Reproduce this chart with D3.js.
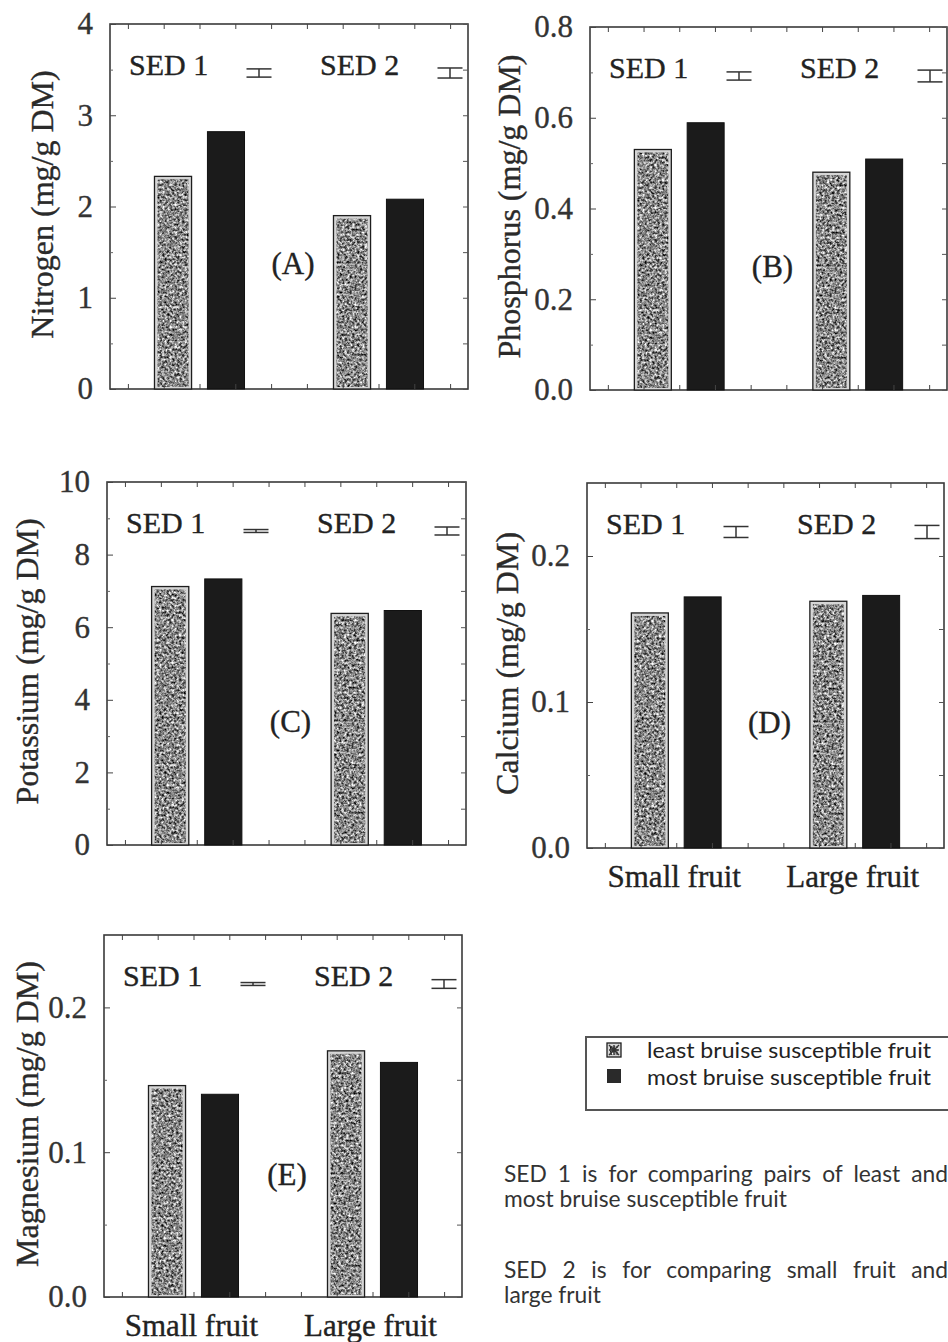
<!DOCTYPE html>
<html>
<head>
<meta charset="utf-8">
<script src="https://cdn.jsdelivr.net/npm/d3@7"></script>
<style>
  html, body { margin: 0; padding: 0; background: #ffffff; }
  svg { display: block; }
</style>
</head>
<body>
<svg id="chart" width="948" height="1342"></svg>
<script>
// ---- data ----
const categories = ["Small fruit", "Large fruit"];
const seriesNames = ["least bruise susceptible fruit", "most bruise susceptible fruit"];
const panelLetters = ["(A)", "(B)", "(C)", "(D)", "(E)"];
const nutrientTitles = ["Nitrogen (mg/g DM)", "Phosphorus (mg/g DM)", "Potassium (mg/g DM)", "Calcium (mg/g DM)", "Magnesium (mg/g DM)"];

const nitrogenLeast = [2.33, 1.90];
const nitrogenMost = [2.82, 2.08];
const phosphorusLeast = [0.530, 0.480];
const phosphorusMost = [0.589, 0.509];
const potassiumLeast = [7.12, 6.38];
const potassiumMost = [7.33, 6.46];
const calciumLeast = [0.161, 0.169];
const calciumMost = [0.172, 0.173];
const magnesiumLeast = [0.146, 0.170];
const magnesiumMost = [0.140, 0.162];

const yMaxValues = [4, 0.8, 10, 0.25, 0.25];
const nitrogenTicks = [0, 1, 2, 3, 4];
const phosphorusTicks = [0, 0.2, 0.4, 0.6, 0.8];
const potassiumTicks = [0, 2, 4, 6, 8, 10];
const calciumTicks = [0, 0.1, 0.2];
const magnesiumTicks = [0, 0.1, 0.2];
const tickFormats = ["d", ".1f", "d", ".1f", ".1f"];

const sed1Values = [0.09, 0.018, 0.08, 0.0075, 0.002];
const sed2Values = [0.11, 0.026, 0.22, 0.009, 0.006];

const noteLines = [
  "SED 1 is for comparing pairs of least and",
  "most bruise susceptible fruit",
  "SED 2 is for comparing small fruit and",
  "large fruit"
];

// ---- layout ----
const frames = [
  { x: 110, y: 24,  w: 358, h: 365, titleX: 53 },
  { x: 590, y: 27,  w: 357, h: 363, titleX: 520 },
  { x: 107, y: 482, w: 359, h: 363, titleX: 38 },
  { x: 587, y: 483, w: 357, h: 365, titleX: 518 },
  { x: 104, y: 935, w: 358, h: 362, titleX: 38 }
];
const showCategoryLabels = [false, false, false, true, true];

const panels = [
  { least: nitrogenLeast, most: nitrogenMost, ticks: nitrogenTicks },
  { least: phosphorusLeast, most: phosphorusMost, ticks: phosphorusTicks },
  { least: potassiumLeast, most: potassiumMost, ticks: potassiumTicks },
  { least: calciumLeast, most: calciumMost, ticks: calciumTicks },
  { least: magnesiumLeast, most: magnesiumMost, ticks: magnesiumTicks }
];

const serif = "'Liberation Serif', 'Times New Roman', serif";
const sans = "Lato, 'Open Sans', 'DejaVu Sans', sans-serif";

const svg = d3.select("#chart");

// serif text with a slightly heavier stroke
function serifText(sel, size, color) {
  return sel.attr("font-family", serif).attr("font-size", size)
    .attr("fill", color).attr("stroke", color).attr("stroke-width", 0.35);
}

// mottled grey texture for the "least" bars
const defs = svg.append("defs");
const stipple = defs.append("filter").attr("id", "stipple")
  .attr("x", 0).attr("y", 0).attr("width", 1).attr("height", 1)
  .attr("color-interpolation-filters", "sRGB");
stipple.append("feTurbulence").attr("type", "fractalNoise")
  .attr("baseFrequency", 0.4).attr("numOctaves", 3).attr("seed", 7).attr("result", "noise");
stipple.append("feColorMatrix").attr("in", "noise").attr("type", "matrix")
  .attr("values", "1.6 0 0 0 -0.27  1.6 0 0 0 -0.27  1.6 0 0 0 -0.27  0 0 0 0 1")
  .attr("result", "grey");
stipple.append("feComposite").attr("in", "grey").attr("in2", "SourceGraphic").attr("operator", "in");

function stippledRect(g, x, y, w, h) {
  g.append("rect").attr("x", x).attr("y", y).attr("width", w).attr("height", h)
    .attr("fill", "#d6d6d6").attr("stroke", "#1e1e1e").attr("stroke-width", 1.3);
  if (w > 6 && h > 6) {
    g.append("rect").attr("x", x + 3).attr("y", y + 3).attr("width", w - 6).attr("height", h - 5)
      .attr("fill", "#888").attr("filter", "url(#stipple)");
  }
}

panels.forEach((p, i) => {
  const f = frames[i];
  const g = svg.append("g").attr("transform", `translate(${f.x},${f.y})`);

  const y = d3.scaleLinear().domain([0, yMaxValues[i]]).range([f.h, 0]);
  const x0 = d3.scaleBand().domain(categories).range([0, f.w]).paddingInner(0).paddingOuter(0);
  const x1 = d3.scaleBand().domain(seriesNames).range([0, x0.bandwidth()])
    .paddingInner(0.3).paddingOuter(0.84);

  // frame
  g.append("rect").attr("width", f.w).attr("height", f.h)
    .attr("fill", "#fff").attr("stroke", "#3a3a3a").attr("stroke-width", 1.6);

  // bars
  categories.forEach((c, ci) => {
    const xl = x0(c) + x1(seriesNames[0]);
    const vl = p.least[ci];
    stippledRect(g, xl, y(vl), x1.bandwidth(), y(0) - y(vl));
    const xm = x0(c) + x1(seriesNames[1]);
    const vm = p.most[ci];
    g.append("rect").attr("x", xm).attr("y", y(vm))
      .attr("width", x1.bandwidth()).attr("height", y(0) - y(vm))
      .attr("fill", "#1b1b1b").attr("stroke", "#111").attr("stroke-width", 1);
  });

  // y axis: labelled ticks pointing inwards
  const step = p.ticks[1] - p.ticks[0];
  const minor = d3.range(step / 2, yMaxValues[i], step).filter(v => v < yMaxValues[i] - 1e-9);
  const left = g.append("g").call(
    d3.axisLeft(y).tickValues(p.ticks).tickFormat(d3.format(tickFormats[i]))
      .tickSizeInner(-6).tickSizeOuter(0).tickPadding(17));
  left.select(".domain").remove();
  left.selectAll("line").attr("stroke", "#444");
  serifText(left.selectAll("text"), 31, "#333");
  const leftMinor = g.append("g").call(d3.axisLeft(y).tickValues(minor).tickFormat("").tickSizeInner(-3).tickSizeOuter(0));
  leftMinor.select(".domain").remove();
  leftMinor.selectAll("line").attr("stroke", "#666");

  const right = g.append("g").attr("transform", `translate(${f.w},0)`).call(
    d3.axisRight(y).tickValues(p.ticks.concat(minor)).tickFormat("").tickSizeInner(-5).tickSizeOuter(0));
  right.select(".domain").remove();
  right.selectAll("line").attr("stroke", "#555");

  // x tick marks along top and bottom
  const xt = d3.scaleLinear().domain([0, 10]).range([0, f.w]);
  const xtVals = d3.range(0.5, 10, 1);
  const top = g.append("g").call(d3.axisBottom(xt).tickValues(xtVals).tickFormat("").tickSizeInner(5).tickSizeOuter(0));
  top.select(".domain").remove();
  top.selectAll("line").attr("stroke", "#444");
  const bottom = g.append("g").attr("transform", `translate(0,${f.h})`)
    .call(d3.axisBottom(xt).tickValues(xtVals).tickFormat("").tickSizeInner(-5).tickSizeOuter(0));
  bottom.select(".domain").remove();
  bottom.selectAll("line").attr("stroke", "#444");

  // SED labels and bars
  [["SED 1", sed1Values[i], 19, 149], ["SED 2", sed2Values[i], 210, 340]].forEach(([lab, v, tx, mx]) => {
    serifText(g.append("text").attr("x", tx).attr("y", 51).text(lab), 30, "#222");
    const hh = Math.max((y(0) - y(v)) / 2, 0.8);
    const m = g.append("g").attr("transform", `translate(${mx},49)`)
      .attr("stroke", "#333").attr("stroke-width", 1.5);
    m.append("line").attr("x1", -12.5).attr("x2", 12.5).attr("y1", -hh).attr("y2", -hh);
    m.append("line").attr("x1", -12.5).attr("x2", 12.5).attr("y1", hh).attr("y2", hh);
    m.append("line").attr("x1", 0).attr("x2", 0).attr("y1", -hh).attr("y2", hh);
  });

  // panel letter
  serifText(g.append("text").attr("x", f.w / 2 + 4).attr("y", 250).attr("text-anchor", "middle")
    .text(panelLetters[i]), 31, "#222");

  // category labels
  if (showCategoryLabels[i]) {
    categories.forEach(c => {
      serifText(g.append("text").attr("x", x0(c) + x0.bandwidth() / 2 - 2).attr("y", f.h + 39)
        .attr("text-anchor", "middle").text(c), 31, "#222");
    });
  }

  // y axis title
  serifText(svg.append("text")
    .attr("transform", `translate(${f.titleX},${f.y + f.h / 2 - 2}) rotate(-90)`)
    .attr("text-anchor", "middle").text(nutrientTitles[i]), 32, "#2a2a2a");
});

// legend
const lg = svg.append("g");
lg.append("rect").attr("x", 586).attr("y", 1037).attr("width", 380).attr("height", 73)
  .attr("fill", "#fff").attr("stroke", "#555").attr("stroke-width", 2);
stippledRect(lg, 607, 1043, 14, 14);
lg.append("path").attr("d", "M609,1045L619,1055M619,1045L609,1055M614,1045V1055M609,1050H619")
  .attr("stroke", "#333").attr("stroke-width", 1.4);
lg.append("rect").attr("x", 607).attr("y", 1069).attr("width", 14).attr("height", 14)
  .attr("fill", "#2a2a2a");
seriesNames.forEach((s, k) => {
  lg.append("text").attr("x", 647).attr("y", 1058 + k * 27).text(s)
    .attr("font-family", sans).attr("font-size", 21).attr("fill", "#222")
    .attr("textLength", 284).attr("lengthAdjust", "spacingAndGlyphs");
});

// explanatory notes; the first line of each paragraph is justified by widening word gaps
const noteY = [1182, 1207, 1278, 1303];
const noteRight = 948;
const noteLeft = 504;
// choose a font size so that an unjustified line sets at its natural width
const probe = svg.append("text").text(noteLines[1])
  .attr("font-family", sans).attr("font-size", 20);
const noteSize = 20 * 283 / probe.node().getComputedTextLength();
probe.remove();
const noteJustify = [true, false, true, false];
noteLines.forEach((t, k) => {
  const el = svg.append("text").attr("x", noteLeft).attr("y", noteY[k]).text(t)
    .attr("font-family", sans).attr("font-size", noteSize).attr("fill", "#333");
  if (noteJustify[k]) {
    const natural = el.node().getComputedTextLength();
    const gaps = t.split(" ").length - 1;
    el.attr("word-spacing", Math.max((noteRight - noteLeft - natural) / gaps, 0));
  }
});
</script>
</body>
</html>
